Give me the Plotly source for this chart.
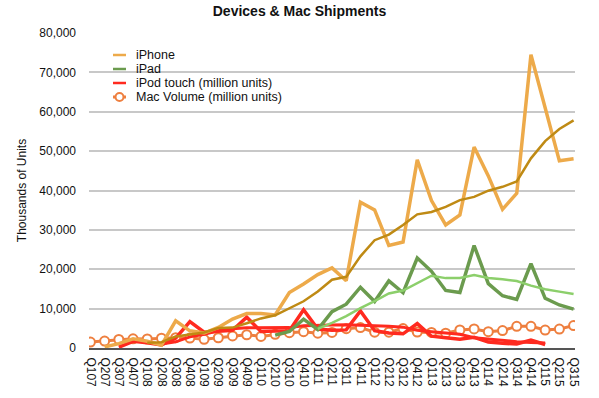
import plotly.graph_objects as go

quarters = ["Q107","Q207","Q307","Q407","Q108","Q208","Q308","Q408","Q109","Q209","Q309","Q409",
            "Q110","Q210","Q310","Q410","Q111","Q211","Q311","Q411","Q112","Q212","Q312","Q412",
            "Q113","Q213","Q313","Q413","Q114","Q214","Q314","Q414","Q115","Q215","Q315"]

N = None
iphone = [N, 270, 1119, 2315, 1703, 717, 6892, 4363, 3793, 5208, 7367, 8737,
          8752, 8398, 14102, 16235, 18647, 20338, 17073, 37044, 35064, 26028, 26910, 47789,
          37430, 31241, 33797, 51025, 43719, 35203, 39272, 74468, 61170, 47534, 48046]
iphone_trend = [N, N, N, N, 1352, 1464, 2907, 3419, 3941, 5064, 5183, 6276,
                7516, 8314, 9997, 11872, 14346, 17331, 18073, 23276, 27380, 28802, 31262, 33948,
                34539, 35843, 37564, 38373, 39946, 40936, 42305, 48166, 52528, 55611, 57805]
ipad = [N]*13 + [3270, 4190, 7331, 4694, 9246, 11123, 15434, 11798, 17042, 14036, 22860,
                 19477, 14617, 14079, 26035, 16350, 13276, 12316, 21419, 12623, 10931, 9883]
ipad_trend = [N]*16 + [4871, 6365, 8099, 10124, 11900, 13849, 14578, 16434,
                       18354, 17748, 17758, 18552, 17770, 17435, 16994, 15840, 14909, 14322, 13714]
ipod = [N, N, 200, 1700, 1300, 800, 2500, 6700, 4000, 4300, 4500, 7800,
        4200, 4300, 4400, 9700, 4800, 4500, 4600, 9400, 4400, 3800, 3600, 6200,
        3000, 2600, 2200, 2700, 1500, 1200, 1000, 2000, 900, N, N]
ipod_trend = [N, N, N, N, N, 1000, 1575, 2825, 3500, 4375, 4875, 5150,
              5200, 5200, 5175, 5650, 5800, 5850, 5900, 5825, 5725, 5550, 5300, 4500,
              4150, 3850, 3500, 2625, 2250, 1900, 1600, 1425, 1275, N, N]
mac = [1517, 1764, 2164, 2319, 2289, 2496, 2611, 2524, 2216, 2603, 3053, 3362,
       2943, 3472, 3885, 4134, 3760, 3947, 4894, 5198, 4017, 4020, 4923, 4061,
       3952, 3754, 4574, 4837, 4136, 4413, 5520, 5519, 4563, 4796, 5709]

legend_names = ["iPhone", "iPad", "iPod touch (million units)", "Mac Volume (million units)"]

C_IPHONE = "#EDAA4A"
C_IPHONE_T = "#BF8A14"
C_IPAD = "#6B9B4E"
C_IPAD_T = "#8CCF6B"
C_IPOD = "#FF2A1F"
C_MAC = "#EE7F3F"
legend_colors = [C_IPHONE, C_IPAD, C_IPOD, C_MAC]

W, H = 599, 398
ML, MR, MT, MB = 89, 24, 33, 50
PW, PH = W - ML - MR, H - MT - MB

fig = go.Figure()
fig.add_trace(go.Scatter(x=quarters, y=mac, name=legend_names[3], mode="lines+markers",
                         line=dict(color=C_MAC, width=3),
                         marker=dict(symbol="circle", size=9, color="white", line=dict(color=C_MAC, width=2))))
fig.add_trace(go.Scatter(x=quarters, y=ipod_trend, mode="lines", line=dict(color=C_IPOD, width=3)))
fig.add_trace(go.Scatter(x=quarters, y=ipod, name=legend_names[2], mode="lines",
                         line=dict(color=C_IPOD, width=3.5)))
fig.add_trace(go.Scatter(x=quarters, y=ipad, name=legend_names[1], mode="lines",
                         line=dict(color=C_IPAD, width=3.5)))
fig.add_trace(go.Scatter(x=quarters, y=ipad_trend, mode="lines", line=dict(color=C_IPAD_T, width=2.5)))
fig.add_trace(go.Scatter(x=quarters, y=iphone, name=legend_names[0], mode="lines",
                         line=dict(color=C_IPHONE, width=3.5)))
fig.add_trace(go.Scatter(x=quarters, y=iphone_trend, mode="lines", line=dict(color=C_IPHONE_T, width=2.5)))


def px_x(px):
    return (px - ML) / PW


def px_y(py):
    return (H - MB - py) / PH


# compact legend (entries drawn as shapes + text)
shapes = []
annotations = []
row_y = [55, 69, 83, 97]
for i, (name, col) in enumerate(zip(legend_names, legend_colors)):
    yy = px_y(row_y[i])
    shapes.append(dict(type="line", xref="paper", yref="paper", x0=px_x(113), x1=px_x(126),
                       y0=yy, y1=yy, line=dict(color=col, width=2.5 if i < 3 else 3)))
    if i == 3:
        shapes.append(dict(type="circle", xref="paper", yref="paper",
                           x0=px_x(115.5), x1=px_x(123.5), y0=px_y(row_y[i] + 4), y1=px_y(row_y[i] - 4),
                           fillcolor="white", line=dict(color=col, width=2)))
    annotations.append(dict(text=name, xref="paper", yref="paper", x=px_x(134), y=yy,
                            xanchor="left", yanchor="middle", showarrow=False,
                            font=dict(size=12.5, color="#111")))

fig.update_layout(
    width=W, height=H,
    margin=dict(l=ML, r=MR, t=MT, b=MB),
    paper_bgcolor="white", plot_bgcolor="white",
    font=dict(family="Liberation Sans, Arial, sans-serif", size=12, color="#111"),
    title=dict(text="<b>Devices & Mac Shipments</b>", x=0.5, xanchor="center",
               yref="container", y=1, yanchor="top", pad=dict(t=6),
               font=dict(size=14, color="#111")),
    showlegend=False,
    shapes=shapes,
    annotations=annotations,
    xaxis=dict(type="category", range=[-0.1, 34.1], tickangle=90, showgrid=False, automargin=False,
               showline=True, linecolor="#555", linewidth=2, ticks="", ticklabelstandoff=5,
               tickfont=dict(size=12)),
    yaxis=dict(range=[0, 80000], dtick=10000, tickformat=",d", showgrid=True, gridcolor="#C8C8C8",
               gridwidth=1.5, zeroline=False, ticks="", ticklabelstandoff=12, automargin=False,
               title=dict(text="Thousands of Units", standoff=10, font=dict(size=12)),
               tickfont=dict(size=12)),
)

fig.write_html("out.html", config={"displayModeBar": False},
               post_script="document.body.style.margin='0';")
